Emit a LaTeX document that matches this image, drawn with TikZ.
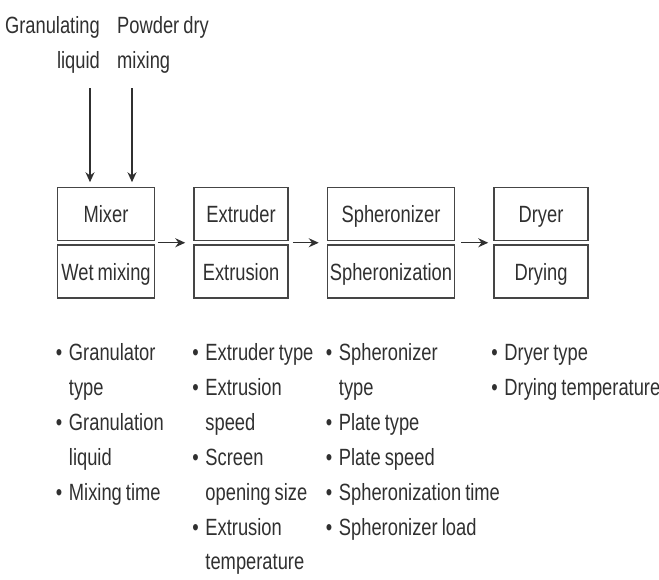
\documentclass[tikz,border=0pt]{standalone}
\usepackage{fontspec}
\setmainfont{Liberation Sans}[FakeStretch=0.78, WordSpace=0.8]
\definecolor{inkgray}{HTML}{303030}
\definecolor{boxgray}{HTML}{454545}
\usetikzlibrary{
    arrows.meta,
    positioning,
    calc
}
\newcommand{\labelfont}{\fontsize{23.5}{35}\selectfont}
\newcommand{\bitem}[1]{\spaceskip=0pt\xspaceskip=0pt\hangindent=13pt\hangafter=1\noindent\makebox[13pt][l]{•}#1\par}
\tikzstyle{stage} = [
    rectangle,
    draw=boxgray,
    line width=1.5pt,
    minimum height=53pt,
    text height=17pt,
    text depth=0pt,
    inner sep=0pt,
    text=inkgray,
    font=\labelfont
]
\tikzstyle{param} = [
    text width=190pt,
    align=left,
    inner sep=0pt,
    anchor=base west,
    text=inkgray,
    font=\labelfont
]
\tikzstyle{feed} = [
    inner sep=0pt,
    text=inkgray,
    font=\labelfont
]
\tikzstyle{flow} = [
    -{Stealth[length=10pt,width=9pt]},
    line width=1.3pt,
    draw=inkgray
]

\begin{document}
\begin{tikzpicture}[x=1pt, y=-1pt]
        \useasboundingbox (0,0) rectangle (659,580);

        % Process stages
        \node[stage, minimum width=97pt] (mixer) at (106,214) {Mixer};
        \node[stage, minimum width=94pt, right=38pt of mixer] (extruder) {Extruder};
        \node[stage, minimum width=127pt, right=38pt of extruder] (spher) {Spheronizer};
        \node[stage, minimum width=94pt, right=38pt of spher] (dryer) {Dryer};

        % Unit operations
        \node[stage, minimum width=97pt, below=3pt of mixer] (wetmix) {Wet mixing};
        \node[stage, minimum width=94pt, below=3pt of extruder] (extrusion) {Extrusion};
        \node[stage, minimum width=127pt, below=3pt of spher] (spheronization) {Spheronization};
        \node[stage, minimum width=94pt, below=3pt of dryer] (drying) {Drying};

        % Arrows
        \draw[flow, shorten <=3pt, shorten >=8pt] ([yshift=-1.5pt]mixer.south east) -- ([yshift=-1.5pt]extruder.south west);
        \draw[flow, shorten <=4pt, shorten >=8pt] ([yshift=-1.5pt]extruder.south east) -- ([yshift=-1.5pt]spher.south west);
        \draw[flow, shorten <=6pt, shorten >=5pt] ([yshift=-1.5pt]spher.south east) -- ([yshift=-1.5pt]dryer.south west);

        % Inputs
        \node[feed, align=right, anchor=north east] (liquid) at (100,16) {Granulating\\liquid};
        \node[feed, align=left, anchor=north west] (powder) at (117,16) {Powder dry\\mixing};

        \draw[flow, shorten <=15pt, shorten >=4.5pt] ([xshift=-10pt]liquid.south east) -- ([xshift=-10pt]liquid.south east |- mixer.north);
        \draw[flow, shorten <=15pt, shorten >=4.5pt] ([xshift=15pt]powder.south west) -- ([xshift=15pt]powder.south west |- mixer.north);

        % Parameters
        \coordinate (listrow) at (0,360);
        \node[param, xshift=-1pt] (mixpar) at (wetmix.south west |- listrow) {%
            \bitem{Granulator\newline type}%
            \bitem{Granulation\newline liquid}%
            \bitem{Mixing time}};
        \node[param, xshift=-1pt] (extpar) at (extrusion.south west |- listrow) {%
            \bitem{Extruder type}%
            \bitem{Extrusion\newline speed}%
            \bitem{Screen\newline opening size}%
            \bitem{Extrusion\newline temperature}};
        \node[param, xshift=-1pt] (sphpar) at (spheronization.south west |- listrow) {%
            \bitem{Spheronizer\newline type}%
            \bitem{Plate type}%
            \bitem{Plate speed}%
            \bitem{Spheronization time}%
            \bitem{Spheronizer load}};
        \node[param, xshift=-2pt, text width=169pt] (drypar) at (drying.south west |- listrow) {%
            \bitem{Dryer type}%
            \bitem{Drying temperature}};
    \end{tikzpicture}
\end{document}
